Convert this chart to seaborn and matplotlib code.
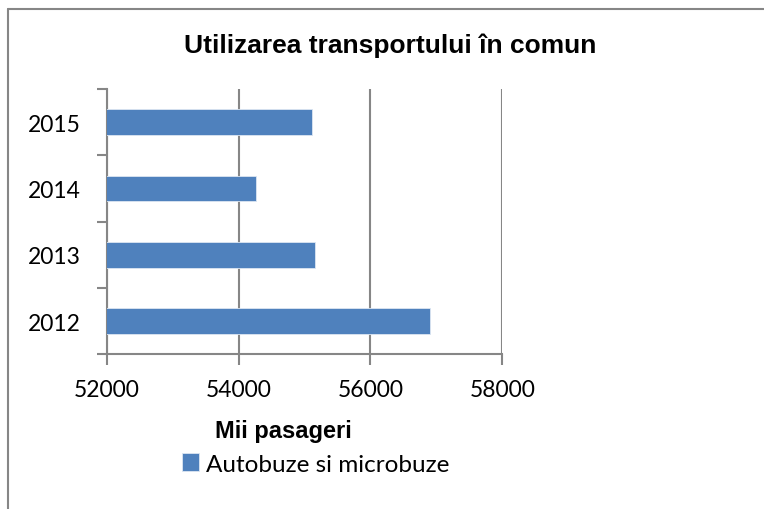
import matplotlib
matplotlib.use("Agg")
import matplotlib.pyplot as plt
import matplotlib.lines as mlines
import seaborn as sns
import pandas as pd

years = ["2015", "2014", "2013", "2012"]
values = [55110, 54270, 55160, 56900]
series_name = "Autobuze si microbuze"
title = "Utilizarea transportului în comun"
xlabel = "Mii pasageri"
xticks = [52000, 54000, 56000, 58000]

df = pd.DataFrame({"year": years, "value": values})

sns.set_theme(style="white")
plt.rcParams["font.family"] = ["Lato", "DejaVu Sans"]
plt.rcParams["text.color"] = "black"
plt.rcParams["xtick.color"] = "black"
plt.rcParams["ytick.color"] = "black"

W, H = 764, 510
fig = plt.figure(figsize=(W / 100, H / 100), dpi=100)
ax = fig.add_axes([106.7 / W, 1 - 355.3 / H, (502.3 - 106.7) / W, (355.3 - 90) / H])

grey = "#868686"
blue = "#4F81BD"

sns.barplot(data=df, x="value", y="year", order=years, orient="h",
            color=blue, width=0.39, ax=ax, saturation=1,
            edgecolor="#dce6f2", linewidth=0.6, zorder=3)

ax.set_xlim(52000, 58000)
ax.set_ylim(3.5, -0.5)
ax.set_xticks(xticks)
ax.set_xticklabels([str(t) for t in xticks], fontsize=16.5, color="black")
ax.set_yticks(range(len(years)))
ax.set_yticklabels(years, fontsize=16.5, color="black")
ax.set_yticks([i - 0.5 for i in range(len(years) + 1)], minor=True)
ax.tick_params(axis="y", which="major", length=0, pad=18.5, labelcolor="black")
ax.tick_params(axis="y", which="minor", length=7, width=1.5, color=grey, direction="out", left=True)
ax.tick_params(axis="x", which="major", length=8, width=1.5, color=grey, direction="out",
               bottom=True, pad=10, labelcolor="black")

ax.xaxis.grid(True, color=grey, linewidth=1.5, zorder=0)
ax.yaxis.grid(False)
ax.set_axisbelow(True)
for s in ["top", "right"]:
    ax.spines[s].set_visible(False)
for s in ["left", "bottom"]:
    ax.spines[s].set_color(grey)
    ax.spines[s].set_linewidth(1.5)

ax.set_xlabel("")
ax.set_ylabel("")

fig.text(283 / W, 1 - 432 / H, xlabel, ha="center", va="center", color="black",
         fontsize=17, fontweight="bold", family="Liberation Sans")
fig.text(390 / W, 1 - 46 / H, title, ha="center", va="center", color="black",
         fontsize=19, fontweight="bold", family="Liberation Sans")

handle = ax.patches[0]
leg = fig.legend([handle], [series_name], loc="center left",
                 bbox_to_anchor=(170 / W, 1 - 465 / H), frameon=False,
                 borderpad=0, handlelength=0.7, handleheight=0.7,
                 handletextpad=0.3, fontsize=17.5, labelcolor="black")

# outer chart border
fig.add_artist(mlines.Line2D([7.5 / W, 1], [1 - 10 / H, 1 - 10 / H],
                             color=grey, linewidth=1.5, transform=fig.transFigure))
fig.add_artist(mlines.Line2D([7.5 / W, 7.5 / W], [1 - 10 / H, 0],
                             color=grey, linewidth=1.5, transform=fig.transFigure))

fig.savefig("out.png", dpi=100)
